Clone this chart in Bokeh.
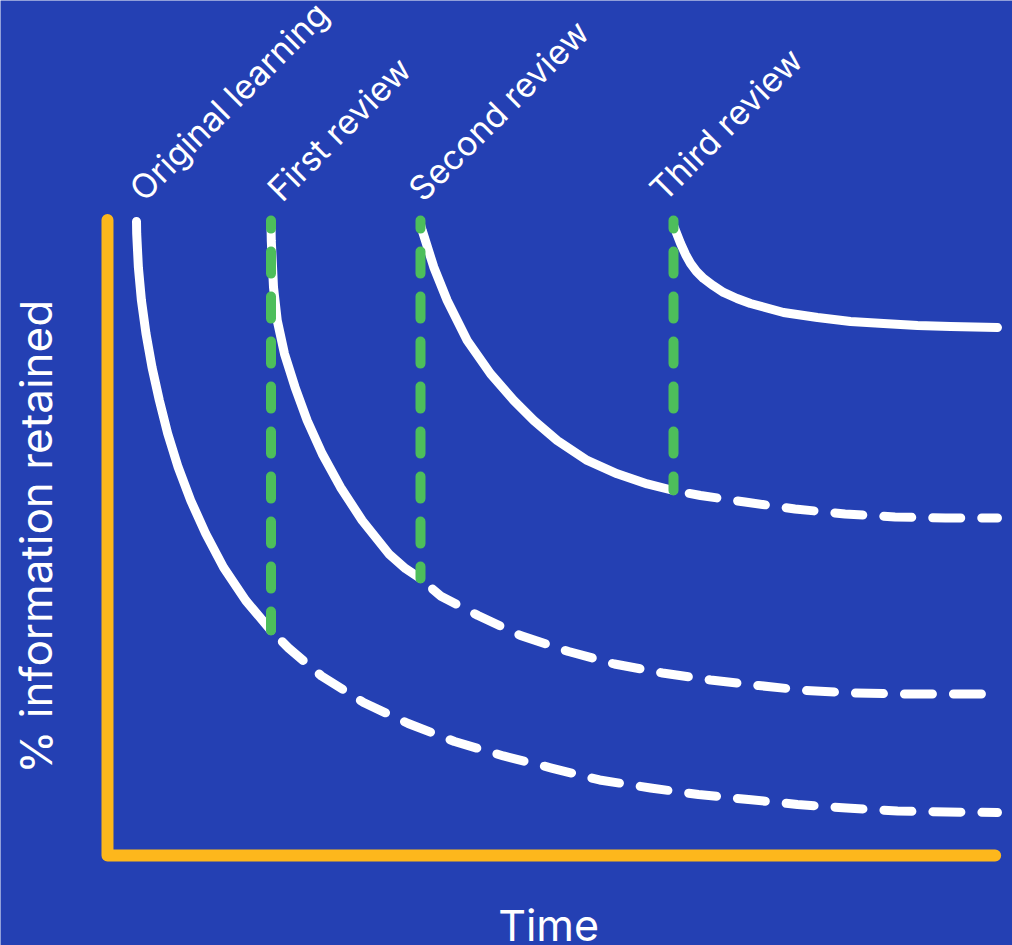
from bokeh.plotting import figure
from bokeh.models import Range1d
from bokeh.core.properties import value
from bokeh.embed import file_html
from bokeh.resources import INLINE

# ---------------- data (time: arbitrary units 0-100, retention: % 0-100) ----------------
event_names = ["Original learning", "First review", "Second review", "Third review"]
event_time = [3.25, 18.31, 35.05, 63.38]
review_floor = [35.16, 43.28, 57.03]   # retention reached just before each review
review_top = 99.2

orig_solid_t = [3.25, 3.27, 3.46, 3.80, 4.31, 4.99, 5.81, 6.74, 7.92, 9.32, 10.99, 13.00, 15.48, 18.31]
orig_solid_r = [99.06, 97.19, 91.88, 86.72, 81.56, 76.25, 71.09, 65.94, 60.63, 55.47, 50.31, 45.0, 39.84, 35.16]
orig_dash_t = [18.31, 20.27, 23.96, 28.67, 33.67, 38.86, 44.34, 49.72, 55.10, 60.81, 66.18, 71.78, 77.27, 82.75, 88.47, 94.06, 99.66]
orig_dash_r = [35.16, 32.42, 28.05, 23.91, 20.63, 17.81, 15.55, 13.67, 11.80, 10.55, 9.53, 8.75, 7.97, 7.42, 6.95, 6.80, 6.72]

first_solid_t = [18.31, 18.34, 18.59, 19.01, 19.82, 21.00, 22.36, 24.04, 26.09, 28.52, 31.50, 33.37, 35.05]
first_solid_r = [98.59, 96.09, 88.80, 83.59, 78.39, 73.17, 67.97, 62.77, 57.55, 52.34, 47.14, 44.84, 43.28]
first_dash_t = [35.05, 37.29, 41.49, 46.25, 51.62, 56.77, 62.15, 67.53, 72.90, 78.23, 83.59, 89.25, 94.62, 99.66]
first_dash_r = [43.28, 40.55, 37.50, 34.38, 31.88, 29.92, 28.52, 27.42, 26.56, 25.78, 25.39, 25.23, 25.23, 25.23]

second_solid_t = [35.05, 35.24, 36.54, 38.04, 40.28, 42.89, 45.50, 47.74, 50.36, 53.72, 57.08, 60.44, 63.38]
second_solid_r = [98.59, 97.66, 91.92, 86.72, 80.47, 75.27, 71.09, 67.97, 64.84, 61.72, 59.64, 58.05, 57.03]
second_dash_t = [63.38, 66.41, 71.39, 76.99, 82.59, 88.19, 93.84, 99.66]
second_dash_r = [57.03, 56.25, 55.23, 54.14, 53.36, 52.89, 52.73, 52.73]

third_solid_t = [63.38, 64.17, 64.73, 65.29, 65.96, 66.74, 67.81, 68.98, 70.49, 72.00, 75.70, 79.51, 83.20, 86.90, 90.71, 94.40, 99.66]
third_solid_r = [98.44, 95.63, 93.91, 92.50, 91.25, 90.16, 89.06, 87.97, 87.03, 86.25, 84.84, 84.06, 83.44, 83.13, 82.81, 82.66, 82.50]

x_label = "Time"
y_label = "% information retained"

# ---------------- layout / style ----------------
label_time = [3.14, 18.59, 34.38, 61.37]   # where each rotated label starts
label_level = 103.3

BG = "#2440B3"
ORANGE = "#FDB71C"
GREEN = "#4DBE5B"
WHITE = "#FFFFFF"
FONT = value("Inter")

p = figure(width=1012, height=945, output_backend="svg", toolbar_location=None,
           x_range=Range1d(-11.98, 101.34), y_range=Range1d(-14.06, 133.59),
           min_border=0, background_fill_color=BG, border_fill_color=BG,
           outline_line_color=None)
p.axis.visible = False
p.grid.visible = False

# axes (drawn as lines so they can have rounded ends)
p.line([0, 0, 99.4], [99.3, 0, 0], line_color=ORANGE, line_width=12,
       line_cap="round", line_join="round")

white_kw = dict(line_color=WHITE, line_width=9, line_cap="round", line_join="round")
dash_kw = dict(white_kw, line_dash="28 21", line_dash_offset=33)

for t, r in [(orig_solid_t, orig_solid_r), (first_solid_t, first_solid_r),
             (second_solid_t, second_solid_r), (third_solid_t, third_solid_r)]:
    p.line(t, r, **white_kw)
for t, r in [(orig_dash_t, orig_dash_r), (first_dash_t, first_dash_r),
             (second_dash_t, second_dash_r)]:
    p.line(t, r, **dash_kw)

# green review markers
for t, floor in zip(event_time[1:], review_floor):
    p.line([t, t], [review_top, floor], line_color=GREEN, line_width=10,
           line_cap="round", line_dash="22 23", line_dash_offset=14)

# rotated event labels
p.text(x=label_time, y=[label_level] * len(label_time), text=event_names,
       angle=45, angle_units="deg", text_align="left", text_baseline="alphabetic",
       text_color=WHITE, text_font=FONT, text_font_size="34px")

# axis titles
p.text(x=[-8.0], y=[49.8], text=[y_label], angle=90, angle_units="deg",
       text_align="center", text_baseline="middle",
       text_color=WHITE, text_font=FONT, text_font_size="44px")
p.text(x=[49.4], y=[-10.78], text=[x_label], text_align="center", text_baseline="middle",
       text_color=WHITE, text_font=FONT, text_font_size="43px")

open("out.html", "w").write(file_html(p, INLINE))
